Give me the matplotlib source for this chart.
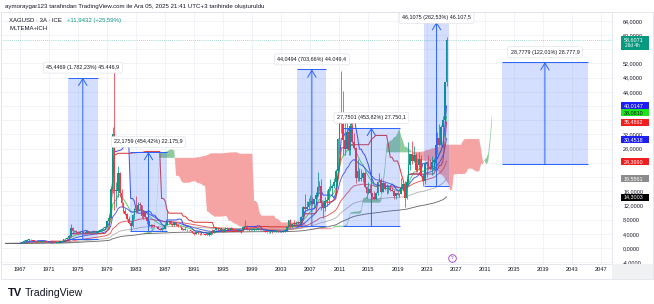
import numpy as np
import pandas as pd
import matplotlib
matplotlib.use("Agg")
import matplotlib.pyplot as plt
from matplotlib.patches import Rectangle

plt.rcParams['font.family'] = ['Liberation Sans', 'DejaVu Sans']

# ---------------- data (quarterly XAGUSD) ----------------
first_year = 1965
closes = [
    1.29, 1.29, 1.29, 1.29,   1.29, 1.29, 1.29, 1.29,   1.29, 1.55, 1.95, 2.10,
    2.15, 2.40, 2.20, 1.95,   1.85, 1.62, 1.85, 1.80,   1.82, 1.65, 1.75, 1.62,
    1.62, 1.58, 1.45, 1.38,   1.50, 1.65, 1.75, 2.05,   2.40, 2.60, 2.85, 3.25,
    5.50, 4.70, 4.80, 4.40,   4.20, 4.60, 4.40, 4.20,   4.10, 4.70, 4.25, 4.40,
    4.80, 4.50, 4.55, 4.90,   5.05, 5.35, 5.50, 6.05,   7.50, 8.40, 16.50, 32.00,
    16.00, 16.00, 21.00, 15.50,   12.60, 10.30, 9.60, 8.30,   7.10, 6.10, 9.30, 10.90,
    10.70, 12.20, 12.00, 9.00,   10.20, 8.70, 7.60, 6.30,   6.40, 6.20, 6.10, 5.90,
    5.40, 5.10, 5.70, 5.40,   6.40, 7.30, 7.50, 6.70,   6.50, 7.00, 6.60, 6.10,
    5.90, 5.20, 5.10, 5.20,   5.00, 4.90, 4.80, 4.20,   3.95, 4.40, 4.10, 3.90,
    4.10, 4.00, 3.80, 3.70,   3.80, 4.40, 4.20, 5.10,   5.50, 5.30, 5.50, 4.90,
    4.60, 5.30, 5.50, 5.20,   5.50, 5.10, 4.90, 4.80,   4.90, 4.60, 5.10, 6.00,
    6.20, 5.40, 5.00, 5.00,   5.10, 5.20, 5.40, 5.40,   5.10, 5.00, 4.90, 4.60,
    4.40, 4.30, 4.70, 4.60,   4.60, 4.90, 4.50, 4.70,   4.40, 4.60, 5.10, 5.90,
    7.80, 5.90, 6.90, 6.80,   7.10, 7.00, 7.40, 8.80,   11.60, 10.90, 11.50, 12.90,
    13.30, 12.40, 13.70, 14.80,   17.20, 17.50, 12.70, 11.30,   13.10, 13.60, 16.70, 16.90,
    17.50, 18.60, 21.80, 30.60,   37.80, 34.90, 30.50, 27.90,   32.60, 27.50, 34.50, 29.90,
    28.20, 19.80, 21.70, 19.50,   19.70, 21.00, 17.10, 15.60,   16.60, 15.60, 14.50, 13.80,
    15.40, 18.70, 19.20, 15.90,   18.20, 16.60, 16.70, 17.00,   16.40, 16.10, 14.60, 15.50,
    15.00, 15.30, 17.00, 17.90,   14.20, 18.60, 23.50, 26.40,   24.50, 26.20, 22.10, 23.30,
    25.10, 20.30, 19.00, 24.00,   24.10, 22.80, 22.20, 24.10,   24.90, 29.10, 31.10, 28.90,
    34.10, 36.00, 46.66, 58.61,
]
highs = [
    1.30, 1.30, 1.30, 1.30,   1.30, 1.30, 1.30, 1.30,   1.30, 1.75, 2.17, 2.20,
    2.50, 2.56, 2.45, 2.25,   2.00, 1.90, 1.90, 1.95,   1.90, 1.85, 1.80, 1.75,
    1.70, 1.65, 1.62, 1.45,   1.55, 1.72, 1.80, 2.10,   2.50, 2.70, 3.10, 3.30,
    6.70, 5.80, 5.10, 5.00,   4.90, 4.70, 5.20, 4.50,   4.30, 5.05, 4.70, 4.50,
    4.95, 4.85, 4.65, 4.95,   5.40, 5.60, 5.85, 6.30,   8.00, 9.20, 17.50, 34.00,
    49.50, 18.50, 23.00, 21.50,   16.50, 13.00, 11.20, 10.00,   8.90, 7.50, 9.50, 11.20,
    14.70, 13.00, 13.00, 12.00,   10.60, 10.30, 8.70, 7.80,   6.90, 6.80, 6.60, 6.30,
    6.20, 5.50, 5.90, 5.80,   6.60, 10.90, 8.00, 7.90,   7.00, 7.30, 7.00, 6.80,
    6.20, 5.90, 5.40, 5.90,   5.30, 5.10, 5.00, 4.80,   4.20, 4.60, 4.40, 4.20,
    4.20, 4.10, 4.00, 3.90,   3.90, 4.90, 5.40, 5.20,   5.70, 5.80, 5.70, 5.50,
    4.90, 5.80, 5.60, 5.50,   5.80, 5.60, 5.20, 5.00,   5.30, 4.90, 5.10, 6.30,
    7.80, 6.40, 5.60, 5.20,   5.60, 5.30, 5.60, 5.70,   5.50, 5.10, 5.10, 5.00,
    4.60, 4.60, 4.70, 4.70,   4.80, 5.10, 5.00, 4.70,   4.80, 4.80, 5.30, 5.90,
    7.90, 8.30, 7.00, 7.90,   7.60, 7.50, 7.50, 9.00,   11.70, 15.20, 13.30, 14.10,
    14.90, 14.30, 13.90, 15.80,   21.40, 18.80, 19.40, 12.60,   14.40, 16.20, 17.40, 19.40,
    18.00, 19.70, 22.20, 31.00,   38.20, 49.80, 44.20, 35.50,   37.50, 33.00, 35.30, 35.40,
    32.50, 28.40, 25.10, 22.60,   22.20, 21.30, 21.60, 17.40,   18.50, 17.80, 15.60, 16.00,
    15.90, 18.80, 21.20, 19.60,   18.60, 18.60, 18.10, 17.70,   17.70, 17.30, 16.20, 15.60,
    16.20, 15.50, 19.60, 18.00,   18.90, 18.90, 29.90, 26.60,   30.10, 28.70, 26.90, 25.40,
    27.00, 26.20, 20.90, 24.30,   24.60, 26.10, 25.00, 25.90,   25.30, 32.50, 32.70, 34.90,
    34.60, 37.30, 46.90, 59.30,
]
lows = [
    1.28, 1.28, 1.28, 1.28,   1.28, 1.28, 1.28, 1.28,   1.28, 1.29, 1.55, 1.90,
    2.05, 2.10, 2.10, 1.85,   1.75, 1.60, 1.60, 1.75,   1.70, 1.60, 1.60, 1.55,
    1.55, 1.50, 1.38, 1.30,   1.35, 1.48, 1.62, 1.70,   1.95, 2.30, 2.50, 2.70,
    3.20, 4.20, 4.40, 4.20,   3.90, 4.20, 4.30, 3.90,   3.85, 4.05, 4.15, 4.15,
    4.35, 4.40, 4.35, 4.50,   4.85, 4.90, 5.25, 5.50,   5.90, 7.30, 8.20, 15.50,
    10.80, 11.50, 14.50, 14.50,   11.50, 9.80, 9.40, 8.00,   6.90, 4.90, 5.90, 8.20,
    9.80, 10.30, 10.70, 8.40,   8.20, 8.50, 6.80, 6.20,   5.50, 5.90, 5.90, 5.85,
    5.30, 5.00, 4.90, 5.30,   5.40, 6.40, 6.90, 6.60,   6.20, 6.10, 6.30, 6.00,
    5.80, 5.10, 5.00, 5.00,   4.90, 4.80, 4.60, 4.10,   3.60, 3.90, 3.90, 3.80,
    3.80, 3.90, 3.70, 3.60,   3.50, 3.80, 4.00, 4.10,   5.00, 5.10, 5.00, 4.70,
    4.40, 4.50, 5.00, 5.00,   5.20, 5.00, 4.90, 4.70,   4.70, 4.50, 4.30, 4.80,
    5.90, 5.10, 4.90, 4.70,   5.00, 4.90, 5.00, 5.10,   5.00, 4.90, 4.80, 4.50,
    4.30, 4.20, 4.10, 4.10,   4.40, 4.60, 4.50, 4.40,   4.40, 4.40, 4.60, 4.80,
    5.90, 5.50, 5.80, 6.60,   6.40, 6.80, 6.80, 7.20,   8.80, 9.50, 10.80, 11.00,
    12.10, 12.20, 11.50, 13.30,   14.70, 16.10, 10.70, 8.40,   10.40, 11.80, 12.50, 16.10,
    14.60, 16.90, 17.30, 21.50,   26.40, 32.30, 26.10, 26.10,   27.90, 26.10, 26.10, 29.70,
    27.80, 18.20, 18.90, 18.80,   19.00, 18.60, 16.90, 14.20,   15.30, 15.50, 13.90, 13.60,
    13.60, 14.80, 18.50, 15.60,   15.90, 16.20, 15.20, 15.60,   16.10, 16.00, 13.90, 13.90,
    14.90, 14.30, 15.10, 16.60,   11.60, 13.70, 17.90, 21.90,   23.80, 24.20, 21.40, 21.40,
    22.00, 20.10, 17.60, 18.10,   19.90, 22.10, 21.90, 20.70,   21.90, 24.70, 26.50, 28.70,
    28.70, 28.30, 35.30, 45.50,
]

ema_lengths = [10, 20, 50, 100, 200]
ema_colors = ['#2DC937', '#2F3BE0', '#E23B3B', '#A8A8A8', '#555555']

# price-range measurement tools
range_x0 = [1973.6, 1982.2, 2005.2, 2011.5, 2022.65, 2033.4]
range_x1 = [1977.7, 1987.2, 2009.2, 2019.3, 2026.1, 2045.2]
range_base = [2.55, 4.88, 6.26, 6.115, 17.563, 23.587]
range_top = [48.00, 27.06, 50.31, 33.87, 63.67, 52.36]
range_labels = ["45,4469 (1.782,23%) 45.446,9", "22,1759 (454,42%) 22.175,9",
                "44,0494 (703,66%) 44.049,4", "27,7501 (453,82%) 27.750,1",
                "46,1075 (262,53%) 46.107,5", "28,7779 (122,01%) 28.777,9"]

# price-scale badges
last_price = 58.6071
countdown = "26d 4h"
badge_values = [40.0147, 38.0810, 35.4862, 30.4518, 24.3990, 19.5561, 14.3003]
badge_colors = ['#1E1EF0', '#1EE61E', '#F01E1E', '#1E1EF0', '#F01E1E', '#8C8C8C', '#000000']
badge_text = ['white', '#131722', 'white', 'white', 'white', 'white', 'white']

x_tick_years = list(range(1967, 2048, 4))
y_ticks = list(range(-4, 65, 4))
event_year = 2026.5
event_value = -2.8

# ---------------- figure ----------------
W, H = 654, 304
fig = plt.figure(figsize=(W / 100, H / 100), dpi=100)
fig.patch.set_facecolor('white')

ax_l, ax_r, ax_t, ax_b = 1, 612, 12, 264
ax = fig.add_axes([ax_l / W, (H - ax_b) / H, (ax_r - ax_l) / W, (ax_b - ax_t) / H])
px_per_year = 7.26
px_per_unit = 3.55
ax.set_xlim(1967 - (20 - ax_l) / px_per_year, 1967 + (ax_r - 20) / px_per_year)
ax.set_ylim((248 - ax_b) / px_per_unit, (248 - ax_t) / px_per_unit)

n = len(closes)
t = first_year + np.arange(n) * 0.25
c = np.array(closes)
h = np.array(highs)
l = np.array(lows)
o = np.concatenate([[c[0]], c[:-1]])
h = np.maximum(h, np.maximum(o, c))
l = np.minimum(l, np.minimum(o, c))

# ticks & grid (labels hidden where a price badge sits on them)
covered = list(badge_values) + [last_price - 2.5]
def tick_label(v):
    if any(abs(v - b) < 1.2 for b in covered):
        return ''
    return f"{v:.4f}".replace('.', ',')

ax.set_xticks(x_tick_years)
ax.set_xticklabels([str(y) for y in x_tick_years])
ax.set_yticks(y_ticks)
ax.set_yticklabels([tick_label(v) for v in y_ticks])
ax.yaxis.tick_right()
ax.tick_params(axis='x', length=0, pad=2.4, labelsize=4.1, colors='#131722')
ax.tick_params(axis='y', length=0, pad=8.0, labelsize=3.9, colors='#131722')
ax.grid(True, color='#EEF1F6', lw=0.6, zorder=0)
ax.set_axisbelow(True)
for s in ax.spines.values():
    s.set_color('#E0E3EB')
    s.set_linewidth(0.6)

# Ichimoku
hs, ls, cs = pd.Series(h), pd.Series(l), pd.Series(c)
tenkan = (hs.rolling(9).max() + ls.rolling(9).min()) / 2
kijun = (hs.rolling(26).max() + ls.rolling(26).min()) / 2
span_a = ((tenkan + kijun) / 2).values
span_b = ((hs.rolling(52).max() + ls.rolling(52).min()) / 2).values
t_fwd = t + 25 * 0.25
ok = ~np.isnan(span_b)
ax.fill_between(t_fwd[ok], span_a[ok], span_b[ok], where=span_a[ok] >= span_b[ok],
                interpolate=True, color='#8FCB9C', lw=0, zorder=1)
ax.fill_between(t_fwd[ok], span_a[ok], span_b[ok], where=span_a[ok] < span_b[ok],
                interpolate=True, color='#F5A3A3', lw=0, zorder=1)

# EMAs
for ln, col in zip(ema_lengths, ema_colors):
    e = cs.ewm(span=ln, adjust=False).mean()
    ax.plot(t, e, color=col, lw=0.65, alpha=0.85, zorder=2)
ax.plot(t, tenkan, color='#3046E8', lw=0.75, alpha=0.9, zorder=2)
ax.plot(t, kijun, color='#D92B2B', lw=0.75, alpha=0.9, zorder=2)

# candles
up = c >= o
cols = np.where(up, '#089981', '#F23645')
ax.vlines(t, l, h, colors=cols, lw=0.55, zorder=3)
ax.bar(t, np.where(np.abs(c - o) < 0.2, 0.2, c - o), bottom=o, width=0.23,
       color=cols, lw=0, zorder=3)

# last price line
ax.axhline(last_price, color='#089981', lw=0.5, ls=(0, (1, 2)), alpha=0.7, zorder=2)

# price-range tools
for x0, x1, b, tp, lab in zip(range_x0, range_x1, range_base, range_top, range_labels):
    ax.add_patch(Rectangle((x0, b), x1 - x0, tp - b, fc=(41 / 255, 98 / 255, 1, 0.2),
                           ec='none', zorder=4))
    ax.hlines([b, tp], x0, x1, colors='#2962FF', lw=0.7, zorder=4)
    mid = (x0 + x1) / 2
    ax.annotate('', xy=(mid, tp), xytext=(mid, b),
                arrowprops=dict(arrowstyle='->,head_length=0.5,head_width=0.3',
                                color='#2962FF', lw=0.7, shrinkA=0, shrinkB=0), zorder=4)
    ly = min(tp + 10 / px_per_unit, 64.8)
    ax.text(mid, ly, lab, ha='center', va='center', fontsize=3.9, color='#131722', zorder=6,
            bbox=dict(boxstyle='round,pad=0.55,rounding_size=0.4', fc='white', ec='#D6D9E0',
                      lw=0.35))

# event marker
ax.plot([event_year], [event_value], marker='o', ms=5.5, mfc='white', mec='#A23CC8',
        mew=0.6, zorder=6, clip_on=False)
ax.text(event_year, event_value, 'ϟ', ha='center', va='center', fontsize=3.5,
        color='#A23CC8', zorder=7)

# price-scale badges
def fig_y(v):
    return ax.transData.transform((2000, v))[1] / H

bx0, bx1 = 621 / W, 649 / W
bh = 7.0 / H
for v, col, tc in zip(badge_values, badge_colors, badge_text):
    yy = fig_y(v)
    fig.add_artist(Rectangle((bx0, yy - bh / 2), bx1 - bx0, bh, transform=fig.transFigure,
                             fc=col, ec='none', zorder=10))
    fig.text(623.5 / W, yy, f"{v:.4f}".replace('.', ','), fontsize=3.9, color=tc,
             va='center', ha='left', zorder=11)
yy = fig_y(last_price)
fig.add_artist(Rectangle((bx0, yy - 10 / H), bx1 - bx0, 13.5 / H, transform=fig.transFigure,
                         fc='#089981', ec='none', zorder=10))
fig.text(623.5 / W, yy, f"{last_price:.4f}".replace('.', ','), fontsize=3.9, color='white',
         va='center', ha='left', zorder=11)
fig.text(625 / W, yy - 6 / H, countdown, fontsize=3.4, color='white', va='center', ha='left',
         zorder=11)

# corner + frame
fig.add_artist(Rectangle((ax_r / W, (H - 279) / H), (W - 1 - ax_r) / W, (279 - ax_b) / H,
                         transform=fig.transFigure, fc='#F0F1F3', ec='none', zorder=1))
fig.add_artist(Rectangle((1 / W, (H - 279) / H), (W - 2) / W, (279 - 12) / H,
                         transform=fig.transFigure, fc='none', ec='#E0E3EB', lw=0.6, zorder=1))

# header texts
fig.text(5 / W, 1 - 6.5 / H,
         "aymoraygar123 tarafından TradingView.com ile Ara 05, 2025 21:41 UTC+3 tarihinde oluşturuldu",
         fontsize=4.4, color='#131722', va='center', ha='left')
fig.text(9 / W, 1 - 20.5 / H, "XAGUSD · 3A · ICE", fontsize=4.3, color='#131722',
         va='center', ha='left')
fig.text(67 / W, 1 - 20.5 / H, "+11,9432 (+25,59%)", fontsize=4.3, color='#089981',
         va='center', ha='left')
fig.text(9 / W, 1 - 29 / H, "MLTEMA+ICH", fontsize=4.3, color='#131722',
         va='center', ha='left')

# logo
fig.text(8 / W, 1 - 293 / H, "TV", fontsize=8, fontweight='heavy', color='#131722',
         va='center', ha='left')
fig.text(25 / W, 1 - 293 / H, "TradingView", fontsize=7.6, color='#131722',
         va='center', ha='left')

fig.savefig('out.png', dpi=100, facecolor='white')
